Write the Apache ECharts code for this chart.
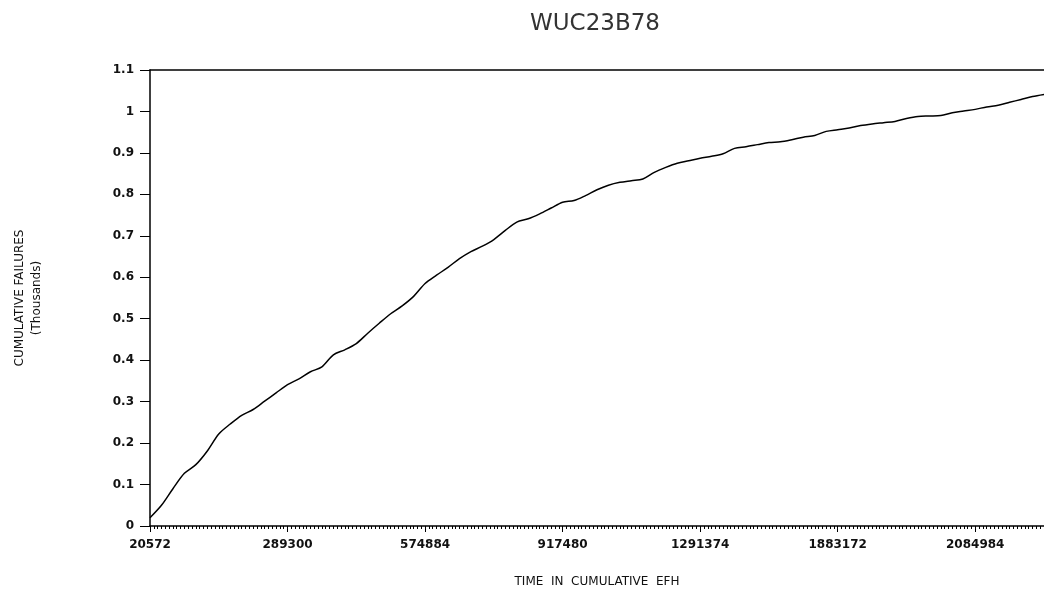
<!DOCTYPE html>
<html>
<head>
<meta charset="utf-8">
<script src="https://cdn.jsdelivr.net/npm/echarts@6/dist/echarts.min.js"></script>
<style>html,body{margin:0;padding:0;background:#fff}#c{width:1044px;height:589px}</style>
</head>
<body>
<div id="c"></div>
<script>
// Tick labels of the x axis (cumulative EFH), one every 36 periods
const xTickLabels = ['20572', '289300', '574884', '917480', '1291374', '1883172', '2084984'];
const periodsPerLabel = 36;
const totalPeriods = 234;
const sampleStep = 3; // readings taken every 3 periods
// Cumulative failures (thousands), read every 3 periods from the picture
const cumulativeFailures = [
  0.020, 0.050, 0.090, 0.127, 0.148, 0.181, 0.222, 0.246, 0.267, 0.281,
  0.301, 0.321, 0.341, 0.355, 0.372, 0.384, 0.413, 0.425, 0.440, 0.465,
  0.489, 0.512, 0.531, 0.554, 0.585, 0.605, 0.624, 0.645, 0.662, 0.675,
  0.691, 0.713, 0.733, 0.741, 0.753, 0.767, 0.781, 0.785, 0.797, 0.811,
  0.822, 0.829, 0.833, 0.837, 0.853, 0.865, 0.875, 0.881, 0.887, 0.892,
  0.898, 0.911, 0.915, 0.920, 0.925, 0.927, 0.932, 0.938, 0.942, 0.952,
  0.956, 0.960, 0.966, 0.970, 0.973, 0.976, 0.983, 0.988, 0.989, 0.990,
  0.997, 1.001, 1.005, 1.011, 1.015, 1.022, 1.029, 1.036, 1.041
];
const yTickLabels = ['0', '0.1', '0.2', '0.3', '0.4', '0.5', '0.6', '0.7', '0.8', '0.9', '1', '1.1'];

const seriesData = cumulativeFailures.map((v, i) => [i * sampleStep, v]);
const font = 'DejaVu Sans';
const chart = echarts.init(document.getElementById('c'), null, {renderer: 'canvas'});
chart.setOption({
  animation: false,
  backgroundColor: '#ffffff',
  title: {
    text: 'WUC23B78',
    left: 590, top: 8, textAlign: 'center',
    textStyle: {fontFamily: font, fontSize: 23, fontWeight: 'normal', color: '#333'}
  },
  grid: {left: 150, right: 0, top: 70, bottom: 63, outerBoundsMode: 'none', containLabel: false},
  xAxis: [{
    type: 'value', min: 0, max: totalPeriods, interval: periodsPerLabel,
    name: 'TIME  IN  CUMULATIVE  EFH', nameLocation: 'middle', nameGap: 50,
    nameTextStyle: {fontFamily: font, fontSize: 12, color: '#111'},
    axisLine: {lineStyle: {color: '#000', width: 1.5}},
    axisTick: {show: true, length: 6, lineStyle: {color: '#000'}},
    minorTick: {show: true, splitNumber: periodsPerLabel, length: 3, lineStyle: {color: '#000'}},
    splitLine: {show: false},
    axisLabel: {
      margin: 13, fontFamily: font, fontSize: 12, fontWeight: 'bold', color: '#111',
      formatter: v => { const k = Math.round(v / periodsPerLabel); return (v % periodsPerLabel === 0 && xTickLabels[k]) ? xTickLabels[k] : ''; }
    }
  }, {
    type: 'value', min: 0, max: totalPeriods, position: 'top',
    axisLine: {show: true, onZero: false, lineStyle: {color: '#000', width: 1.5}},
    axisTick: {show: false}, axisLabel: {show: false}, splitLine: {show: false}
  }],
  yAxis: {
    type: 'value', min: 0, max: 1.1, interval: 0.1,
    name: 'CUMULATIVE FAILURES\n(Thousands)', nameLocation: 'middle', nameGap: 105, nameRotate: 90,
    nameTextStyle: {fontFamily: font, fontSize: 12, color: '#111', lineHeight: 17},
    axisLine: {show: true, lineStyle: {color: '#000', width: 1.5}},
    axisTick: {show: true, length: 10, lineStyle: {color: '#000'}},
    splitLine: {show: false},
    axisLabel: {
      margin: 16, fontFamily: font, fontSize: 12, fontWeight: 'bold', color: '#111',
      formatter: v => yTickLabels[Math.round(v * 10)] || ''
    }
  },
  series: [{
    type: 'line', data: seriesData, showSymbol: false, smooth: 0.3,
    lineStyle: {color: '#000', width: 1.5}
  }]
});
</script>
</body>
</html>
